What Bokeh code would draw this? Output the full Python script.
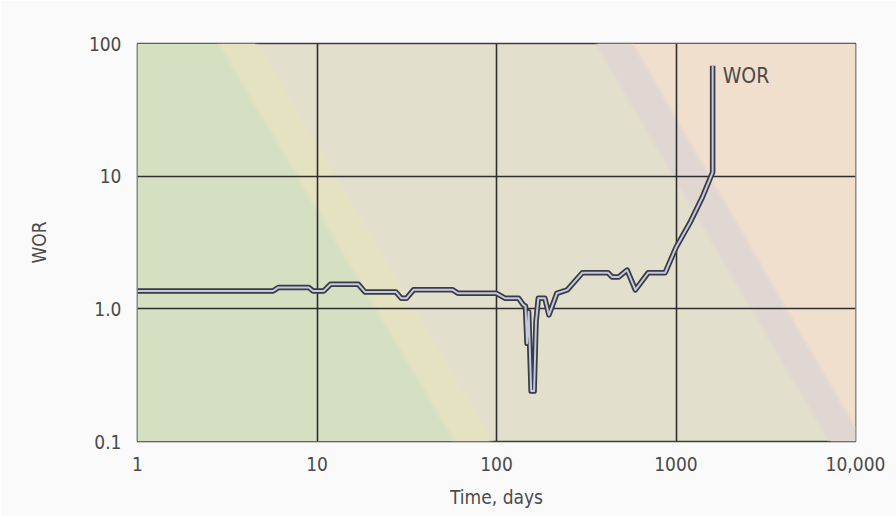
from bokeh.plotting import figure
from bokeh.models import FixedTicker, Range1d
from bokeh.core.properties import value
from bokeh.embed import file_html
from bokeh.resources import INLINE

# Water-oil ratio history, log-log
time_days = [1, 5.7, 6.1, 9.0, 9.5, 10.9, 11.9, 17.0, 18.5, 27.5, 29.5, 31.5,
             34.5, 57, 61, 100, 112, 133, 141, 145, 148, 151, 156, 162, 166,
             171, 186, 196, 217, 248, 301, 418, 440, 480, 534, 594, 700, 870,
             1000, 1200, 1400, 1600, 1600]
wor = [1.365, 1.365, 1.45, 1.45, 1.365, 1.365, 1.53, 1.53, 1.34, 1.34, 1.2,
       1.2, 1.39, 1.39, 1.31, 1.31, 1.2, 1.2, 1.07, 1.05, 0.55, 0.95, 0.24,
       0.24, 0.8, 1.2, 1.2, 0.9, 1.31, 1.39, 1.87, 1.87, 1.74, 1.74, 1.96,
       1.39, 1.87, 1.87, 2.9, 4.5, 6.9, 10.7, 68]
series_name = "WOR"

x_ticks = [1, 10, 100, 1000, 10000]
x_tick_labels = ["1", "10", "100", "1000", "10,000"]
y_ticks = [0.1, 1, 10, 100]
y_tick_labels = ["0.1", "1.0", "10", "100"]

# Diagonal shaded zones: boundaries given by their x at the top (100) and bottom (0.1)
Y_TOP, Y_BOT = 100, 0.1
yellow_left = (2.9, 60)
yellow_right = (4.5, 92)
purple_left = (365, 7300)
purple_right = (560, 10800)

FONT = "DejaVu Sans Condensed, Roboto"
TEXT_COLOR = "#4a4a4a"

p = figure(width=896, height=516, x_axis_type="log", y_axis_type="log",
           x_range=Range1d(1, 10000), y_range=Range1d(0.1, 100),
           output_backend="svg", toolbar_location=None,
           min_border_left=137, min_border_right=41,
           min_border_top=43, min_border_bottom=75)

p.background_fill_color = "#e2e0cd"
p.border_fill_color = "#fafafa"
p.outline_line_color = "#3d3d3d"
p.outline_line_width = 1.6


def zone(left, right, color, alpha=1.0):
    xs = [left[0], right[0], right[1], left[1]]
    ys = [Y_TOP, Y_TOP, Y_BOT, Y_BOT]
    p.patch(xs, ys, fill_color=color, fill_alpha=alpha, line_color=None,
            level="image")


# green zone on the left, orange zone on the right
zone((0.5, 0.5), yellow_left, "#d5e0c2")
zone(purple_right, (50000, 50000), "#f0dfcc")
# soft-edged yellow band
zone((yellow_left[0] * 0.95, yellow_left[1] * 0.95),
     (yellow_right[0] * 1.05, yellow_right[1] * 1.05), "#e5e2c1", 0.5)
zone(yellow_left, yellow_right, "#e5e2c1")
# soft-edged mauve band
zone((purple_left[0] * 0.96, purple_left[1] * 0.96),
     (purple_right[0] * 1.04, purple_right[1] * 1.04), "#e0d6d2", 0.5)
zone(purple_left, purple_right, "#e0d6d2")

# grid
p.xgrid.ticker = FixedTicker(ticks=x_ticks)
p.ygrid.ticker = FixedTicker(ticks=y_ticks)
for g in (p.xgrid, p.ygrid):
    g.grid_line_color = "#2e2e2e"
    g.grid_line_width = 1.6
    g.grid_line_alpha = 1.0

# axes
p.xaxis.ticker = FixedTicker(ticks=x_ticks)
p.yaxis.ticker = FixedTicker(ticks=y_ticks)
p.xaxis.major_label_overrides = {t: s for t, s in zip(x_ticks, x_tick_labels)}
p.yaxis.major_label_overrides = {t: s for t, s in zip(y_ticks, y_tick_labels)}
p.xaxis.axis_label = "Time, days"
p.yaxis.axis_label = "WOR"
for ax in (p.xaxis, p.yaxis):
    ax.axis_line_color = None
    ax.major_tick_line_color = None
    ax.minor_tick_line_color = None
    ax.major_label_text_font = FONT
    ax.major_label_text_font_size = "19px"
    ax.major_label_text_color = TEXT_COLOR
    ax.axis_label_text_font = FONT
    ax.axis_label_text_font_size = "19px"
    ax.axis_label_text_font_style = "normal"
    ax.axis_label_text_color = TEXT_COLOR
p.xaxis.major_label_standoff = 9
p.yaxis.major_label_standoff = 10
p.xaxis.axis_label_standoff = 12
p.yaxis.axis_label_standoff = 36

# double-stroke curve: dark casing with a light core
p.line(time_days, wor, line_width=5.5, line_color="#3a3a48", line_join="round")
p.line(time_days, wor, line_width=2, line_color="#c3cadb", line_join="round")

p.text(x=[time_days[-1]], y=[wor[-1]], text=[series_name],
       text_font=value(FONT), text_font_size="21px", text_color="#4a4a4a",
       text_baseline="middle", text_align="left", x_offset=10, y_offset=10)

open("out.html", "w").write(file_html(p, INLINE))
